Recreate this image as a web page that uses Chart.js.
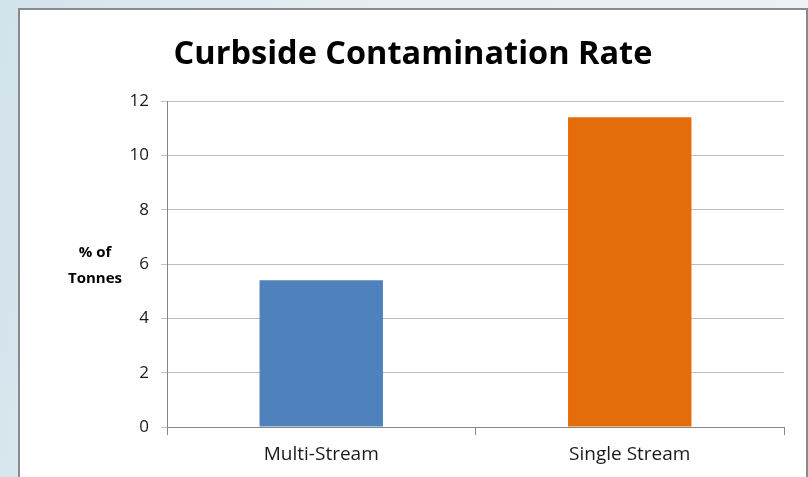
<!DOCTYPE html>
<html>
<head>
<meta charset="utf-8">
<script src="https://cdn.jsdelivr.net/npm/chart.js@4"></script>
<style>
  html, body { margin: 0; padding: 0; width: 808px; height: 477px; overflow: hidden; }
  body { background: linear-gradient(100deg, #d3e3ec 0%, #e6eef3 40%, #edf3f6 100%); position: relative; }
  .box { position: absolute; left: 18px; top: 8px; width: 786px; height: 480px; border: 2px solid #8a8a8a; background: #fff; }
  canvas { position: absolute; left: 0; top: 0; }
</style>
</head>
<body>
<div class="box"><canvas id="chart" width="786" height="470"></canvas></div>
<script>
const categories = ["Multi-Stream", "Single Stream"];
const contamination = [5.4, 11.4];
const barColors = ["#4f81bd", "#e46c0a"];
const yTitleLines = ["% of", "Tonnes"];

const fontFamily = "'Open Sans', Lato, sans-serif";

// draws the horizontal two-line y axis title left of the ticks
const yTitlePlugin = {
    id: "yTitle",
    afterDraw(chart) {
        const ctx = chart.ctx;
        const area = chart.chartArea;
        const mid = (area.top + area.bottom) / 2 + 2;
        ctx.save();
        ctx.font = "bold 15px " + fontFamily;
        ctx.fillStyle = "#000";
        ctx.textAlign = "center";
        ctx.textBaseline = "middle";
        ctx.fillText(yTitleLines[0], 75, mid - 13);
        ctx.fillText(yTitleLines[1], 75, mid + 13);
        ctx.restore();
    }
};

new Chart(document.getElementById("chart"), {
    type: "bar",
    data: {
        labels: categories,
        datasets: [{
            data: contamination,
            backgroundColor: barColors,
            barPercentage: 0.4,
            categoryPercentage: 1
        }]
    },
    options: {
        responsive: false,
        animation: false,
        layout: { padding: { left: 22, right: 22, top: 0, bottom: 0 } },
        plugins: {
            legend: { display: false },
            tooltip: { enabled: false },
            title: {
                display: true,
                text: "Curbside Contamination Rate",
                color: "#000",
                font: { family: fontFamily, size: 32.5, weight: "bold" },
                padding: { top: 25, bottom: 27 }
            }
        },
        scales: {
            x: {
                grid: { drawOnChartArea: false, tickLength: 8, color: "#868686", offset: true },
                border: { color: "#868686" },
                ticks: { color: "#1a1a1a", font: { family: fontFamily, size: 19 }, padding: 8 },
                afterFit(scale) { scale.height = 53; }
            },
            y: {
                min: 0,
                max: 12,
                ticks: { stepSize: 2, color: "#1a1a1a", font: { family: fontFamily, size: 17 }, padding: 12 },
                grid: { color: "#bfbfbf", tickLength: 6 },
                border: { color: "#868686" },
                afterFit(scale) { scale.width = 125; }
            }
        }
    },
    plugins: [yTitlePlugin]
});
</script>
</body>
</html>
